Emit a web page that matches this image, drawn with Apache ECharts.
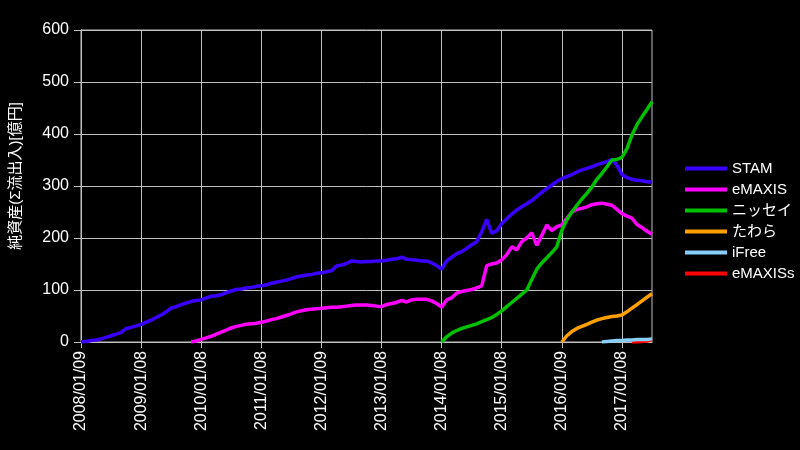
<!DOCTYPE html>
<html><head><meta charset="utf-8">
<script src="https://cdn.jsdelivr.net/npm/echarts@6/dist/echarts.min.js"></script>
<style>html,body{margin:0;padding:0;background:#000;}#c{width:800px;height:450px;}</style>
</head><body><div id="c"></div>
<script>
const categories = [
"2008/01/09","2008/02/08","2008/03/08","2008/04/08","2008/05/08","2008/06/08","2008/07/08","2008/08/08","2008/09/08","2008/10/08","2008/11/08","2008/12/08",
"2009/01/08","2009/02/08","2009/03/08","2009/04/08","2009/05/08","2009/06/08","2009/07/08","2009/08/08","2009/09/08","2009/10/08","2009/11/08","2009/12/08",
"2010/01/08","2010/02/08","2010/03/08","2010/04/08","2010/05/08","2010/06/08","2010/07/08","2010/08/08","2010/09/08","2010/10/08","2010/11/08","2010/12/08",
"2011/01/08","2011/02/08","2011/03/08","2011/04/08","2011/05/08","2011/06/08","2011/07/08","2011/08/08","2011/09/08","2011/10/08","2011/11/08","2011/12/08",
"2012/01/09","2012/02/08","2012/03/08","2012/04/08","2012/05/08","2012/06/08","2012/07/08","2012/08/08","2012/09/08","2012/10/08","2012/11/08","2012/12/08",
"2013/01/08","2013/02/08","2013/03/08","2013/04/08","2013/05/08","2013/06/08","2013/07/08","2013/08/08","2013/09/08","2013/10/08","2013/11/08","2013/12/08",
"2014/01/08","2014/02/08","2014/03/08","2014/04/08","2014/05/08","2014/06/08","2014/07/08","2014/08/08","2014/09/08","2014/10/08","2014/11/08","2014/12/08",
"2015/01/08","2015/02/08","2015/03/08","2015/04/08","2015/05/08","2015/06/08","2015/07/08","2015/08/08","2015/09/08","2015/10/08","2015/11/08","2015/12/08",
"2016/01/09","2016/02/08","2016/03/08","2016/04/08","2016/05/08","2016/06/08","2016/07/08","2016/08/08","2016/09/08","2016/10/08","2016/11/08","2016/12/08",
"2017/01/08","2017/02/08","2017/03/08","2017/04/08","2017/05/08","2017/06/08","2017/07/08"
];
const seriesNames = ["STAM","eMAXIS","ニッセイ","たわら","iFree","eMAXISs"];
const stamStart = "2008/01/09";
const stam = [0,1,3,4,6,9,12,15,18,26,28,31,
34,38,42,47,52,58,65,68,72,75,78,80,
81,85,88,89,91,95,98,101,102,104,105,107,
108,110,113,115,117,119,122,125,127,129,130,132,
133,135,137,146,148,151,156,155,154,155,155,156,
156,157,159,160,163,159,158,157,156,156,152,147,
140,156,163,170,174,180,187,193,212,236,209,214,
228,237,246,254,260,266,272,280,288,295,302,309,
314,318,322,327,331,334,337,341,344,347,351,340,
322,316,313,311,310,308,307];
const emaxisStart = "2009/11/08";
const emaxis = [0,2,
5,8,11,15,19,23,27,30,32,34,35,36,
38,40,43,45,48,51,54,58,60,62,63,64,
65,66,67,67,68,69,70,71,71,71,70,69,
68,72,74,76,80,77,81,82,82,82,79,74,
67,81,85,94,97,99,101,104,108,147,150,152,
158,168,183,177,193,200,210,186,205,225,214,222,
225,238,250,255,257,260,264,266,267,265,263,255,
247,242,238,226,220,213,207];
const nissayStart = "2014/01/08";
const nissay = [0,10,17,22,26,29,32,35,39,43,47,53,
60,68,76,84,92,100,120,140,152,162,172,183,
215,235,250,263,275,286,298,313,324,337,350,351,
355,372,398,418,433,447,462];
const tawaraStart = "2016/01/09";
const tawara = [0,12,20,26,30,34,38,42,45,47,49,50,52,58,65,72,79,86,93];
const ifreeStart = "2016/09/08";
const ifree = [0,1,2,3,3,4,4,5,5,5,6];
const emaxissStart = "2017/03/08";
const emaxiss = [0,0,1,2,5];
const yTicks = [0,100,200,300,400,500,600];
const colors = ["#3a00ff","#ff00ff","#00c000","#ffa000","#87cefa","#ff0000"];

function pad(start, vals){
  const i = categories.indexOf(start);
  const out = new Array(categories.length).fill(null);
  vals.forEach((v,k)=>{ out[i+k] = v; });
  return out;
}
const allData = [pad(stamStart,stam),pad(emaxisStart,emaxis),pad(nissayStart,nissay),pad(tawaraStart,tawara),pad(ifreeStart,ifree),pad(emaxissStart,emaxiss)];
const FONT = "'Liberation Sans', Arial, 'Noto Sans CJK JP', sans-serif";
const chart = echarts.init(document.getElementById('c'));
chart.setOption({
  backgroundColor: '#000',
  animation: false,
  textStyle: {fontFamily: FONT},
  grid: {left: 80, right: 148, top: 30, bottom: 108, show: true, borderColor: '#c0c0c0', borderWidth: 1},
  legend: {
    orient: 'vertical', left: 680, top: 156, itemWidth: 42, itemHeight: 4, itemGap: 6,
    icon: 'rect',
    textStyle: {color: '#fff', fontSize: 15, fontFamily: FONT},
    data: seriesNames
  },
  xAxis: {
    type: 'category', data: categories, boundaryGap: false,
    axisLine: {lineStyle: {color: '#c0c0c0'}},
    axisTick: {show: true, interval: 11, length: 6, lineStyle: {color: '#c0c0c0'}},
    axisLabel: {interval: 11, rotate: 90, color: '#fff', fontSize: 16, fontFamily: FONT, margin: 9},
    splitLine: {show: true, interval: 11, lineStyle: {color: '#c0c0c0', width: 1}}
  },
  yAxis: {
    type: 'value', min: yTicks[0], max: yTicks[yTicks.length-1], interval: 100,
    name: '純資産(Σ流出入)[億円]', nameLocation: 'middle', nameGap: 58,
    nameTextStyle: {color: '#fff', fontSize: 15, fontFamily: FONT, padding: [0,0,0,20]},
    axisLine: {show: true, lineStyle: {color: '#c0c0c0'}},
    axisTick: {show: true, length: 7, lineStyle: {color: '#c0c0c0'}},
    axisLabel: {color: '#fff', fontSize: 16, fontFamily: FONT, margin: 12},
    splitLine: {show: true, lineStyle: {color: '#c0c0c0', width: 1}}
  },
  series: seriesNames.map((n,i)=>({
    name: n, type: 'line', data: allData[i], showSymbol: false, symbol: 'none',
    z: i === 5 ? 1 : 2,
    lineStyle: {width: 3.5, color: colors[i]}, itemStyle: {color: colors[i]}
  }))
});
</script></body></html>
